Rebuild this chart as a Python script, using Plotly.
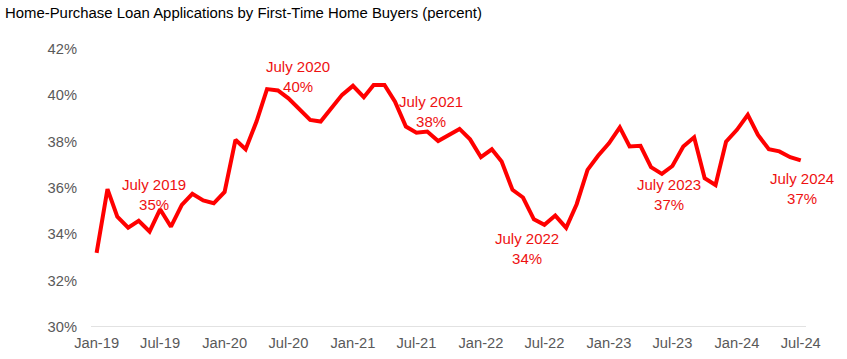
import pandas as pd
import plotly.graph_objects as go

# Monthly share of home-purchase loan applications by first-time buyers (%), Jan-2019 .. Jul-2024
months = pd.date_range("2019-01-01", periods=67, freq="MS")
share = [
    33.2, 35.95, 34.76, 34.29, 34.58, 34.12, 35.08, 34.33, 35.27, 35.75, 35.46, 35.34,  # 2019
    35.83, 38.08, 37.67, 38.87, 40.27, 40.21, 39.87, 39.40, 38.94, 38.87, 39.45, 40.02,  # 2020
    40.41, 39.92, 40.45, 40.45, 39.73, 38.65, 38.39, 38.44, 38.03, 38.29, 38.55, 38.10,  # 2021
    37.33, 37.67, 37.14, 35.92, 35.59, 34.65, 34.41, 34.81, 34.28, 35.30, 36.78, 37.39,  # 2022
    37.93, 38.62, 37.79, 37.82, 36.90, 36.61, 36.95, 37.79, 38.19, 36.42, 36.13, 38.00,  # 2023
    38.51, 39.16, 38.29, 37.67, 37.58, 37.33, 37.19,                                     # 2024
]

tick_vals = pd.date_range("2019-01-01", "2024-07-01", freq="6MS")
tick_text = ["Jan-19", "Jul-19", "Jan-20", "Jul-20", "Jan-21", "Jul-21",
             "Jan-22", "Jul-22", "Jan-23", "Jul-23", "Jan-24", "Jul-24"]

y_ticks = [30, 32, 34, 36, 38, 40, 42]
y_tick_text = ["30%", "32%", "34%", "36%", "38%", "40%", "42%"]

title_text = "Home-Purchase Loan Applications by First-Time Home Buyers (percent)"

# Callout labels: (month index position, y value, text)
callout_text = ["July 2019<br>35%", "July 2020<br>40%", "July 2021<br>38%",
                "July 2022<br>34%", "July 2023<br>37%", "July 2024<br>37%"]
callout_month = [5.43, 18.87, 31.35, 40.4, 53.65, 66.1]
callout_y = [35.70, 40.8, 39.29, 33.41, 35.70, 36.0]

def month_pos(idx):
    base = pd.Timestamp("2019-01-01")
    whole = int(idx)
    frac = idx - whole
    d0 = base + pd.DateOffset(months=whole)
    d1 = base + pd.DateOffset(months=whole + 1)
    return d0 + (d1 - d0) * frac

W, H = 847, 359
ML, MR, MT, MB = 91, 41, 49, 32
plot_w = W - ML - MR
plot_h = H - MT - MB

fig = go.Figure()
fig.add_trace(go.Scatter(
    x=months, y=share, mode="lines",
    line=dict(color="#FF0000", width=4, shape="linear"),
    hoverinfo="x+y", showlegend=False,
))

for t, m, yv in zip(callout_text, callout_month, callout_y):
    fig.add_annotation(
        x=month_pos(m), y=yv, xref="x", yref="y", text=t, showarrow=False,
        font=dict(family="Liberation Sans, Arial, sans-serif", size=15, color="#EE1111"),
        align="center", xanchor="center", yanchor="middle",
    )

# title as paper annotation for exact placement
fig.add_annotation(
    text=title_text, xref="paper", yref="paper",
    x=(3 - ML) / plot_w, y=1 + (MT - 3) / plot_h,
    xanchor="left", yanchor="top", showarrow=False,
    font=dict(family="Liberation Sans, Arial, sans-serif", size=14.9, color="#000000"),
)

fig.update_layout(
    width=W, height=H,
    margin=dict(l=ML, r=MR, t=MT, b=MB, autoexpand=False),
    paper_bgcolor="white", plot_bgcolor="white",
    font=dict(family="Liberation Sans, Arial, sans-serif", color="#595959", size=14.7),
    xaxis=dict(
        range=[pd.Timestamp("2018-12-16"), pd.Timestamp("2024-07-16")],
        tickmode="array", tickvals=tick_vals, ticktext=tick_text,
        showgrid=False, zeroline=False, automargin=False,
        showline=False, ticks="",
        tickfont=dict(size=14.7, color="#595959"),
        ticklabelstandoff=5,
    ),
    yaxis=dict(
        range=[30, 42], tickmode="array", tickvals=y_ticks, ticktext=y_tick_text,
        showgrid=False, zeroline=False, showline=False, ticks="", automargin=False,
        tickfont=dict(size=14.7, color="#595959"),
        ticklabelstandoff=13,
    ),
)

# light baseline at 30%
fig.add_shape(type="line", xref="paper", yref="y", x0=0, x1=1, y0=30, y1=30,
              line=dict(color="#D9D9D9", width=1.3), layer="below")

fig.write_html(
    "out.html",
    config={"displayModeBar": False},
    post_script="document.body.style.margin='0';document.body.style.overflow='hidden';",
)
